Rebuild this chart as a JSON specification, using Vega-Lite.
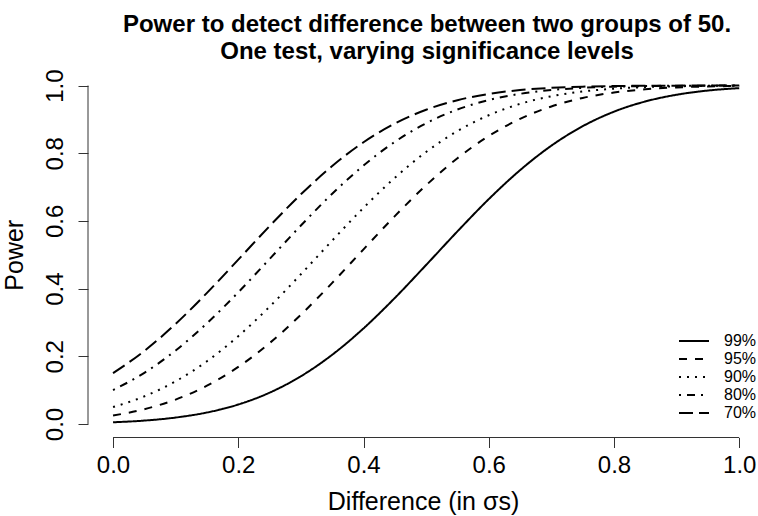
{
  "$schema": "https://vega.github.io/schema/vega-lite/v6.json",
  "autosize": {"type": "none"},
  "padding": {"left": 88, "top": 72, "right": 0, "bottom": 79},
  "width": 670,
  "height": 365.5,
  "background": "white",
  "config": {
    "font": "Liberation Sans",
    "view": {"stroke": null}
  },
  "title": {
    "text": ["Power to detect difference between two groups of 50.", "One test, varying significance levels"],
    "font": "Liberation Sans",
    "fontSize": 24,
    "fontWeight": "bold",
    "color": "black",
    "anchor": "middle",
    "frame": "group",
    "lineHeight": 27,
    "offset": 5,
    "dx": 4
  },
  "datasets": {
    "curves": [
      {"d":0.00,"power":0.0050,"level":"99%"},{"d":0.05,"power":0.0100,"level":"99%"},{"d":0.10,"power":0.0190,"level":"99%"},{"d":0.15,"power":0.0339,"level":"99%"},{"d":0.20,"power":0.0575,"level":"99%"},{"d":0.25,"power":0.0925,"level":"99%"},{"d":0.30,"power":0.1410,"level":"99%"},{"d":0.35,"power":0.2045,"level":"99%"},{"d":0.40,"power":0.2824,"level":"99%"},{"d":0.45,"power":0.3723,"level":"99%"},{"d":0.50,"power":0.4698,"level":"99%"},{"d":0.55,"power":0.5691,"level":"99%"},{"d":0.60,"power":0.6643,"level":"99%"},{"d":0.65,"power":0.7499,"level":"99%"},{"d":0.70,"power":0.8223,"level":"99%"},{"d":0.75,"power":0.8798,"level":"99%"},{"d":0.80,"power":0.9228,"level":"99%"},{"d":0.85,"power":0.9529,"level":"99%"},{"d":0.90,"power":0.9728,"level":"99%"},{"d":0.95,"power":0.9852,"level":"99%"},{"d":1.00,"power":0.9923,"level":"99%"},
      {"d":0.00,"power":0.0250,"level":"95%"},{"d":0.05,"power":0.0436,"level":"95%"},{"d":0.10,"power":0.0721,"level":"95%"},{"d":0.15,"power":0.1131,"level":"95%"},{"d":0.20,"power":0.1685,"level":"95%"},{"d":0.25,"power":0.2389,"level":"95%"},{"d":0.30,"power":0.3228,"level":"95%"},{"d":0.35,"power":0.4168,"level":"95%"},{"d":0.40,"power":0.5160,"level":"95%"},{"d":0.45,"power":0.6141,"level":"95%"},{"d":0.50,"power":0.7054,"level":"95%"},{"d":0.55,"power":0.7852,"level":"95%"},{"d":0.60,"power":0.8508,"level":"95%"},{"d":0.65,"power":0.9015,"level":"95%"},{"d":0.70,"power":0.9382,"level":"95%"},{"d":0.75,"power":0.9633,"level":"95%"},{"d":0.80,"power":0.9793,"level":"95%"},{"d":0.85,"power":0.9890,"level":"95%"},{"d":0.90,"power":0.9945,"level":"95%"},{"d":0.95,"power":0.9974,"level":"95%"},{"d":1.00,"power":0.9988,"level":"95%"},
      {"d":0.00,"power":0.0500,"level":"90%"},{"d":0.05,"power":0.0815,"level":"90%"},{"d":0.10,"power":0.1261,"level":"90%"},{"d":0.15,"power":0.1854,"level":"90%"},{"d":0.20,"power":0.2595,"level":"90%"},{"d":0.25,"power":0.3465,"level":"90%"},{"d":0.30,"power":0.4424,"level":"90%"},{"d":0.35,"power":0.5419,"level":"90%"},{"d":0.40,"power":0.6387,"level":"90%"},{"d":0.45,"power":0.7274,"level":"90%"},{"d":0.50,"power":0.8038,"level":"90%"},{"d":0.55,"power":0.8654,"level":"90%"},{"d":0.60,"power":0.9123,"level":"90%"},{"d":0.65,"power":0.9458,"level":"90%"},{"d":0.70,"power":0.9682,"level":"90%"},{"d":0.75,"power":0.9824,"level":"90%"},{"d":0.80,"power":0.9907,"level":"90%"},{"d":0.85,"power":0.9954,"level":"90%"},{"d":0.90,"power":0.9978,"level":"90%"},{"d":0.95,"power":0.9990,"level":"90%"},{"d":1.00,"power":0.9996,"level":"90%"},
      {"d":0.00,"power":0.1000,"level":"80%"},{"d":0.05,"power":0.1511,"level":"80%"},{"d":0.10,"power":0.2172,"level":"80%"},{"d":0.15,"power":0.2975,"level":"80%"},{"d":0.20,"power":0.3891,"level":"80%"},{"d":0.25,"power":0.4874,"level":"80%"},{"d":0.30,"power":0.5864,"level":"80%"},{"d":0.35,"power":0.6802,"level":"80%"},{"d":0.40,"power":0.7637,"level":"80%"},{"d":0.45,"power":0.8336,"level":"80%"},{"d":0.50,"power":0.8885,"level":"80%"},{"d":0.55,"power":0.9290,"level":"80%"},{"d":0.60,"power":0.9571,"level":"80%"},{"d":0.65,"power":0.9755,"level":"80%"},{"d":0.70,"power":0.9867,"level":"80%"},{"d":0.75,"power":0.9932,"level":"80%"},{"d":0.80,"power":0.9967,"level":"80%"},{"d":0.85,"power":0.9985,"level":"80%"},{"d":0.90,"power":0.9994,"level":"80%"},{"d":0.95,"power":0.9997,"level":"80%"},{"d":1.00,"power":0.9999,"level":"80%"},
      {"d":0.00,"power":0.1500,"level":"70%"},{"d":0.05,"power":0.2158,"level":"70%"},{"d":0.10,"power":0.2958,"level":"70%"},{"d":0.15,"power":0.3873,"level":"70%"},{"d":0.20,"power":0.4855,"level":"70%"},{"d":0.25,"power":0.5846,"level":"70%"},{"d":0.30,"power":0.6785,"level":"70%"},{"d":0.35,"power":0.7623,"level":"70%"},{"d":0.40,"power":0.8324,"level":"70%"},{"d":0.45,"power":0.8876,"level":"70%"},{"d":0.50,"power":0.9284,"level":"70%"},{"d":0.55,"power":0.9567,"level":"70%"},{"d":0.60,"power":0.9752,"level":"70%"},{"d":0.65,"power":0.9866,"level":"70%"},{"d":0.70,"power":0.9931,"level":"70%"},{"d":0.75,"power":0.9967,"level":"70%"},{"d":0.80,"power":0.9985,"level":"70%"},{"d":0.85,"power":0.9993,"level":"70%"},{"d":0.90,"power":0.9997,"level":"70%"},{"d":0.95,"power":0.9999,"level":"70%"},{"d":1.00,"power":1.0000,"level":"70%"}
    ],
    "axes": [
      {"x1": 0, "x2": 1, "y1": -0.04, "y2": -0.04},
      {"x1": -0.04, "x2": -0.04, "y1": 0, "y2": 1}
    ]
  },
  "layer": [
    {
      "data": {"name": "axes"},
      "mark": {"type": "rule", "color": "#333333", "strokeWidth": 1},
      "encoding": {
        "x": {"field": "x1", "type": "quantitative", "scale": {"domain": [-0.04, 1.03], "nice": false, "zero": false}},
        "x2": {"field": "x2"},
        "y": {"field": "y1", "type": "quantitative", "scale": {"domain": [-0.04, 1.04], "nice": false, "zero": false}},
        "y2": {"field": "y2"}
      }
    },
    {
      "data": {"name": "curves"},
      "mark": {"type": "line", "color": "black", "strokeWidth": 2, "interpolate": "monotone", "clip": false},
      "encoding": {
        "x": {
          "field": "d", "type": "quantitative",
          "scale": {"domain": [-0.04, 1.03], "nice": false, "zero": false},
          "axis": {
            "title": "Difference (in σs)",
            "values": [0, 0.2, 0.4, 0.6, 0.8, 1.0],
            "format": ".1f",
            "domain": false, "grid": false,
            "tickSize": 10, "tickColor": "#333333", "tickWidth": 1,
            "labelFontSize": 24, "labelColor": "black", "labelPadding": 6, "labelFont": "Liberation Sans",
            "titleFontSize": 25, "titleFontWeight": "normal", "titleColor": "black", "titleFont": "Liberation Sans", "titlePadding": 12
          }
        },
        "y": {
          "field": "power", "type": "quantitative",
          "scale": {"domain": [-0.04, 1.04], "nice": false, "zero": false},
          "axis": {
            "title": "Power",
            "values": [0, 0.2, 0.4, 0.6, 0.8, 1.0],
            "format": ".1f",
            "domain": false, "grid": false,
            "tickSize": 10, "tickColor": "#333333", "tickWidth": 1,
            "labelAngle": 270, "labelAlign": "center", "labelBaseline": "bottom",
            "labelFontSize": 24, "labelColor": "black", "labelPadding": 11, "labelFont": "Liberation Sans",
            "titleFontSize": 25, "titleFontWeight": "normal", "titleColor": "black", "titleFont": "Liberation Sans", "titlePadding": 16
          }
        },
        "strokeDash": {
          "field": "level", "type": "nominal",
          "scale": {
            "domain": ["99%", "95%", "90%", "80%", "70%"],
            "range": [[1, 0], [8, 8], [2, 6], [2, 6, 8, 6], [14, 6]]
          },
          "legend": {
            "title": null,
            "orient": "none",
            "legendX": 590,
            "legendY": 261,
            "symbolType": "stroke",
            "symbolSize": 900,
            "symbolStrokeWidth": 2,
            "symbolStrokeColor": "black",
            "clipHeight": 16,
            "rowPadding": 2,
            "labelOffset": 14,
            "labelFontSize": 16,
            "labelColor": "black",
            "labelFont": "Liberation Sans"
          }
        }
      }
    }
  ]
}
